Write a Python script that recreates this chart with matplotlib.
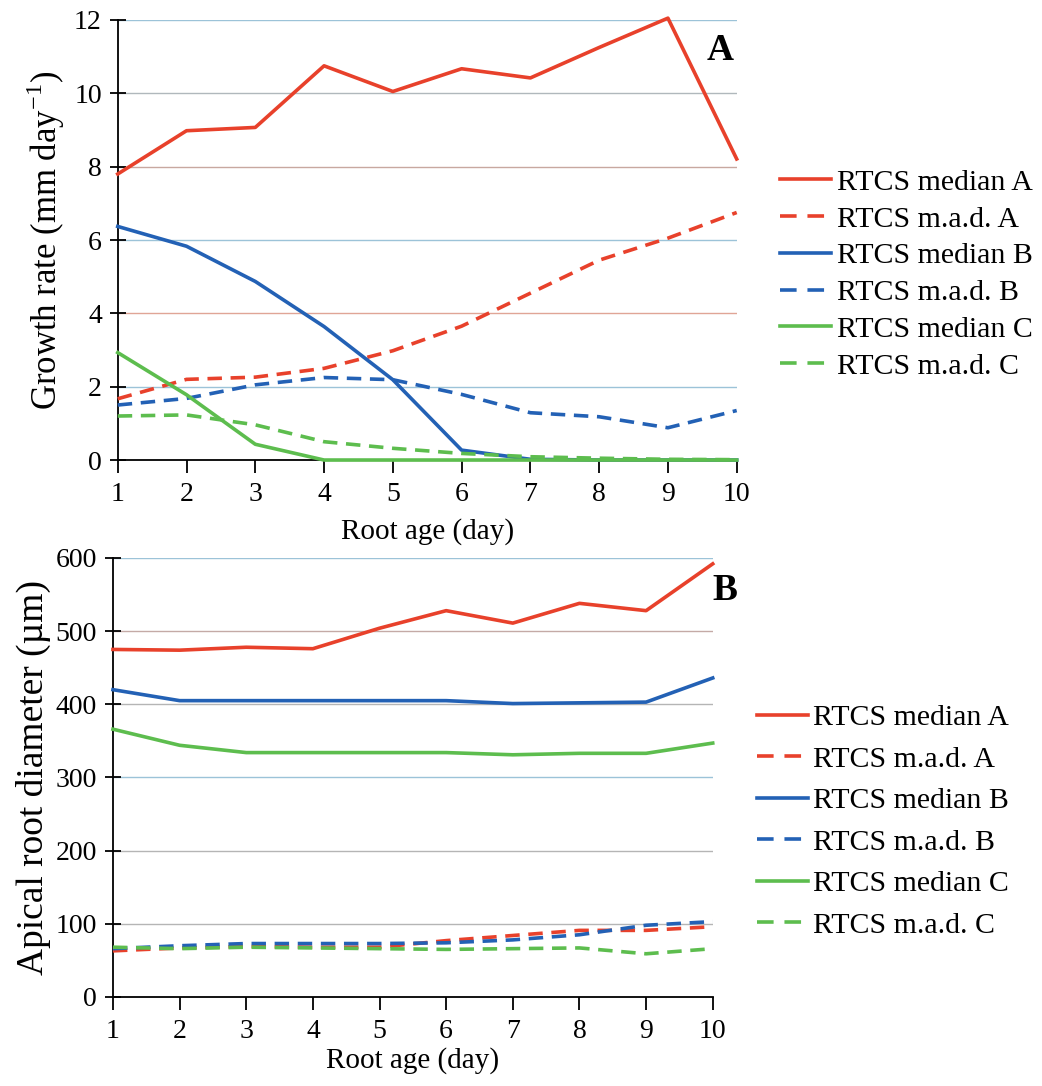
import matplotlib
matplotlib.use("Agg")
import matplotlib.pyplot as plt
from matplotlib.lines import Line2D

# Root age (days)
days = [1, 2, 3, 4, 5, 6, 7, 8, 9, 10]

# Panel A - growth rate (mm/day)
a_median_A = [7.8, 8.98, 9.07, 10.75, 10.05, 10.67, 10.42, 11.25, 12.05, 8.21]
a_mad_A = [1.67, 2.2, 2.26, 2.5, 2.98, 3.65, 4.55, 5.45, 6.05, 6.75]
a_median_B = [6.37, 5.83, 4.87, 3.64, 2.19, 0.27, 0.02, 0.0, 0.0, 0.0]
a_mad_B = [1.5, 1.68, 2.05, 2.25, 2.19, 1.79, 1.29, 1.18, 0.88, 1.35]
a_median_C = [2.93, 1.78, 0.43, 0.0, 0.0, 0.0, 0.0, 0.0, 0.0, 0.0]
a_mad_C = [1.2, 1.23, 0.96, 0.5, 0.32, 0.18, 0.09, 0.05, 0.02, 0.01]

# Panel B - apical root diameter (um)
b_median_A = [475, 474, 478, 476, 504, 528, 511, 538, 528, 592]
b_mad_A = [63, 67, 69, 68, 68, 77, 84, 91, 91, 96]
b_median_B = [420, 405, 405, 405, 405, 405, 401, 402, 403, 436]
b_mad_B = [66, 70, 73, 73, 73, 74, 78, 85, 98, 103]
b_median_C = [366, 344, 334, 334, 334, 334, 331, 333, 333, 347]
b_mad_C = [68, 66, 68, 67, 66, 65, 66, 67, 59, 66]

labels = ["RTCS median A", "RTCS m.a.d. A", "RTCS median B",
          "RTCS m.a.d. B", "RTCS median C", "RTCS m.a.d. C"]

RED = "#e8412b"
BLUE = "#2361b5"
GREEN = "#5dbd4e"
colors = [RED, RED, BLUE, BLUE, GREEN, GREEN]
styles = ["-", "--", "-", "--", "-", "--"]
LW = 2.6
DASH = (4.0, 2.4)

plt.rcParams["font.family"] = ["Liberation Serif", "DejaVu Serif"]
plt.rcParams["mathtext.fontset"] = "custom"
plt.rcParams["mathtext.rm"] = "Liberation Serif"

fig = plt.figure(figsize=(10.42, 10.86), dpi=100)
axA = fig.add_axes([0.113, 0.5764, 0.594, 0.4052])
axB = fig.add_axes([0.1084, 0.082, 0.5756, 0.4042])


def draw_panel(ax, series, ylim, step, grid_colors):
    for y, c, s in zip(series, colors, styles):
        line, = ax.plot(days, y, color=c, lw=LW, linestyle=s, clip_on=False, zorder=3)
        if s == "--":
            line.set_dashes(DASH)
    ax.set_xlim(1, 10)
    ax.set_ylim(*ylim)
    ax.set_xticks(days)
    ax.set_yticks(range(ylim[0], ylim[1] + 1, step))
    for sp in ["top", "right"]:
        ax.spines[sp].set_visible(False)
    for sp in ["left", "bottom"]:
        ax.spines[sp].set_linewidth(1.3)
    ax.tick_params(axis="y", direction="inout", length=11, width=1.3, labelsize=20, pad=6)
    ax.tick_params(axis="x", direction="out", length=9, width=1.3, labelsize=20, pad=7)
    ticks = ax.get_yticks()
    for t, gc in zip(ticks[1:], grid_colors):
        ax.axhline(t, color=gc, lw=1.0, zorder=1)


draw_panel(axA, [a_median_A, a_mad_A, a_median_B, a_mad_B, a_median_C, a_mad_C],
           (0, 12), 2, ["#9cc3d8", "#e0a596", "#9cc3d8", "#c8a8a0", "#b0b8bc", "#9cc3d8"])
draw_panel(axB, [b_median_A, b_mad_A, b_median_B, b_mad_B, b_median_C, b_mad_C],
           (0, 600), 100, ["#b5b5b5", "#b5b5b5", "#9cc3d8", "#b5b5b5", "#c4aaa6", "#9cc3d8"])

axA.set_xlabel("Root age (day)", fontsize=21, labelpad=8)
axB.set_xlabel("Root age (day)", fontsize=21, labelpad=2)
axA.set_ylabel(r"Growth rate (mm day$^{\mathregular{-1}}$)", fontsize=25, labelpad=5)
axB.set_ylabel("Apical root diameter (µm)", fontsize=27, labelpad=3)

axA.text(0.995, 0.93, "A", transform=axA.transAxes, fontsize=27, fontweight="bold",
         ha="right", va="center")
axB.text(1.0, 0.925, "B", transform=axB.transAxes, fontsize=27, fontweight="bold",
         ha="left", va="center")


def handles():
    out = []
    for c, s in zip(colors, styles):
        h = Line2D([0], [0], color=c, lw=LW, linestyle=s)
        if s == "--":
            h.set_dashes((4.6, 3.0))
        out.append(h)
    return out


fig.legend(handles(), labels, loc="upper left", bbox_to_anchor=(0.7486, 0.8445),
           frameon=False, fontsize=21.5, handlelength=1.7, handletextpad=0.2,
           labelspacing=0.33, borderaxespad=0, borderpad=0)
fig.legend(handles(), labels, loc="upper left", bbox_to_anchor=(0.7265, 0.3515),
           frameon=False, fontsize=21.5, handlelength=1.7, handletextpad=0.17,
           labelspacing=0.49, borderaxespad=0, borderpad=0)

fig.savefig("out.png", dpi=100)
